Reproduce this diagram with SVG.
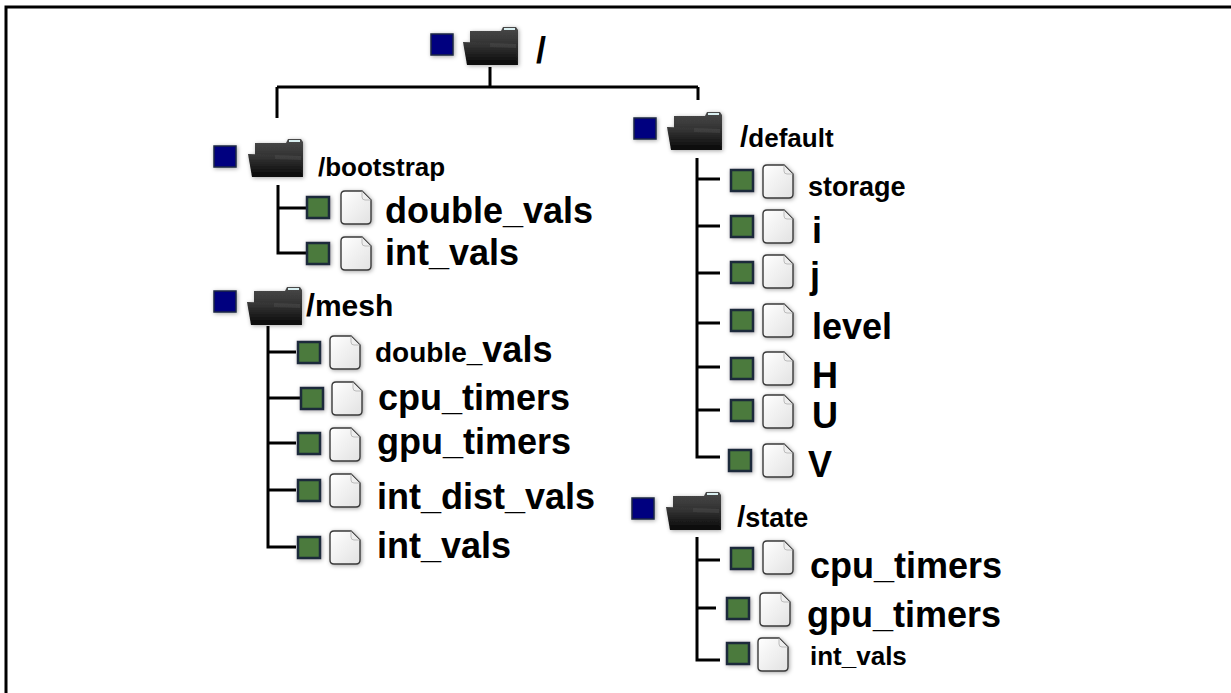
<svg xmlns="http://www.w3.org/2000/svg" xmlns:xlink="http://www.w3.org/1999/xlink" width="1231" height="693" viewBox="0 0 1231 693">
<style>
.lbl{font-family:"Liberation Sans",Arial,sans-serif;font-weight:bold;fill:#000}
.ln{fill:none;stroke:#000;stroke-width:3}
.frame{fill:none;stroke:#000;stroke-width:3}
.blue{fill:#00007f;stroke:#1e2a44;stroke-width:1.5}
.green{fill:#4b7a3c;stroke:#1b2a3a;stroke-width:2.5}
</style>
<defs>
<filter id="sh" x="-30%" y="-30%" width="160%" height="160%">
<feDropShadow dx="1" dy="1" stdDeviation="2" flood-color="#000" flood-opacity="0.35"/>
</filter>
<linearGradient id="fgBack" x1="0" y1="0" x2="0" y2="1">
<stop offset="0" stop-color="#4a4a4a"/><stop offset="1" stop-color="#151515"/>
</linearGradient>
<linearGradient id="fgFront" x1="0" y1="0" x2="0" y2="1">
<stop offset="0" stop-color="#3a3a3a"/><stop offset="1" stop-color="#070707"/>
</linearGradient>
<linearGradient id="fileG" x1="0" y1="0" x2="1" y2="1">
<stop offset="0" stop-color="#ffffff"/><stop offset="1" stop-color="#e2e2e2"/>
</linearGradient>
<g id="folder">
<path d="M6,4 H37 L39,0 H52 L54,3 V38 H6 Z" fill="url(#fgBack)"/>
<rect x="40" y="1" width="11" height="2" fill="#d8eef0"/>
<path d="M-1,15 L52,17 L53,38 L3,38 Z" fill="url(#fgFront)"/>
<path d="M26,16 L52,17 L52,21 L26,20 Z" fill="#555" opacity="0.35"/>
</g>
<g id="file">
<path d="M4,0 H21 L30,9 V29 Q30,33 26,33 H4 Q0,33 0,29 V4 Q0,0 4,0 Z" fill="url(#fileG)" stroke="#3a3a3a" stroke-width="1.4"/>
<path d="M21,0.5 V6 Q21,9 24,9 H29.5" fill="#eee" stroke="#bbb" stroke-width="1"/>
</g>
<rect id="bsq" class="blue" width="22" height="21"/>
<rect id="gsq" class="green" width="22" height="21"/>
</defs>
<rect width="1231" height="693" fill="#fff"/>
<path class="frame" d="M6,693 V7 H1231"/>

<g id="connectors">
<path class="ln" d="M490,67 V87 M277,87 H698 M277,87 V118 M698,87 V100"/>
<path class="ln" d="M278,185 V253 H306 M278,208 H306"/>
<path class="ln" d="M268,326 V547 H296 M268,352 H296 M268,398 H300 M268,443 H296 M268,490 H296"/>
<path class="ln" d="M697,158 V457 H720 M697,179 H720 M697,226 H720 M697,273 H720 M697,323 H720 M697,367 H720 M697,410 H720"/>
<path class="ln" d="M697,537 V660 H720 M697,560 H720 M697,608 H716"/>
</g>

<g id="n-root">
<use href="#bsq" x="431" y="34" filter="url(#sh)"/>
<use href="#folder" x="464" y="27" filter="url(#sh)"/>
<text class="lbl" x="536" y="63" font-size="36">/</text>
</g>

<g id="n-bootstrap">
<use href="#bsq" x="214" y="146" filter="url(#sh)"/>
<use href="#folder" x="249" y="139" filter="url(#sh)"/>
<text class="lbl" x="318" y="176" font-size="26">/bootstrap</text>
</g>
<g id="n-bootstrap-double_vals">
<use href="#gsq" x="307" y="197" filter="url(#sh)"/>
<use href="#file" x="341" y="191" filter="url(#sh)"/>
<text class="lbl" x="385" y="223" font-size="36">double_vals</text>
</g>
<g id="n-bootstrap-int_vals">
<use href="#gsq" x="307" y="243" filter="url(#sh)"/>
<use href="#file" x="341" y="237" filter="url(#sh)"/>
<text class="lbl" x="385" y="265" font-size="36">int_vals</text>
</g>

<g id="n-mesh">
<use href="#bsq" x="214" y="291" filter="url(#sh)"/>
<use href="#folder" x="248" y="287" filter="url(#sh)"/>
<text class="lbl" x="306" y="316"><tspan font-size="32">/</tspan><tspan font-size="30">mesh</tspan></text>
</g>
<g id="n-mesh-double_vals">
<use href="#gsq" x="298" y="342" filter="url(#sh)"/>
<use href="#file" x="330" y="336" filter="url(#sh)"/>
<text class="lbl" x="375" y="362"><tspan font-size="28">double_</tspan><tspan font-size="36">vals</tspan></text>
</g>
<g id="n-mesh-cpu_timers">
<use href="#gsq" x="301" y="388" filter="url(#sh)"/>
<use href="#file" x="332" y="382" filter="url(#sh)"/>
<text class="lbl" x="378" y="410" font-size="36">cpu_timers</text>
</g>
<g id="n-mesh-gpu_timers">
<use href="#gsq" x="298" y="433" filter="url(#sh)"/>
<use href="#file" x="330" y="428" filter="url(#sh)"/>
<text class="lbl" x="377" y="454" font-size="36">gpu_timers</text>
</g>
<g id="n-mesh-int_dist_vals">
<use href="#gsq" x="298" y="480" filter="url(#sh)"/>
<use href="#file" x="330" y="474" filter="url(#sh)"/>
<text class="lbl" x="377" y="509" font-size="36">int_dist_vals</text>
</g>
<g id="n-mesh-int_vals">
<use href="#gsq" x="298" y="537" filter="url(#sh)"/>
<use href="#file" x="330" y="531" filter="url(#sh)"/>
<text class="lbl" x="377" y="558" font-size="36">int_vals</text>
</g>

<g id="n-default">
<use href="#bsq" x="634" y="118" filter="url(#sh)"/>
<use href="#folder" x="668" y="112" filter="url(#sh)"/>
<text class="lbl" x="740" y="147"><tspan font-size="30">/</tspan><tspan font-size="26">default</tspan></text>
</g>
<g id="n-default-storage">
<use href="#gsq" x="731" y="170" filter="url(#sh)"/>
<use href="#file" x="763" y="165" filter="url(#sh)"/>
<text class="lbl" x="808" y="196" font-size="27">storage</text>
</g>
<g id="n-default-i">
<use href="#gsq" x="731" y="216" filter="url(#sh)"/>
<use href="#file" x="763" y="210" filter="url(#sh)"/>
<text class="lbl" x="812" y="243" font-size="36">i</text>
</g>
<g id="n-default-j">
<use href="#gsq" x="731" y="262" filter="url(#sh)"/>
<use href="#file" x="763" y="255" filter="url(#sh)"/>
<text class="lbl" x="810" y="288" font-size="36">j</text>
</g>
<g id="n-default-level">
<use href="#gsq" x="731" y="310" filter="url(#sh)"/>
<use href="#file" x="763" y="304" filter="url(#sh)"/>
<text class="lbl" x="812" y="339" font-size="36">level</text>
</g>
<g id="n-default-H">
<use href="#gsq" x="731" y="358" filter="url(#sh)"/>
<use href="#file" x="763" y="352" filter="url(#sh)"/>
<text class="lbl" x="812" y="388" font-size="36">H</text>
</g>
<g id="n-default-U">
<use href="#gsq" x="731" y="400" filter="url(#sh)"/>
<use href="#file" x="763" y="395" filter="url(#sh)"/>
<text class="lbl" x="812" y="428" font-size="36">U</text>
</g>
<g id="n-default-V">
<use href="#gsq" x="729" y="450" filter="url(#sh)"/>
<use href="#file" x="763" y="444" filter="url(#sh)"/>
<text class="lbl" x="808" y="477" font-size="36">V</text>
</g>

<g id="n-state">
<use href="#bsq" x="632" y="498" filter="url(#sh)"/>
<use href="#folder" x="667" y="492" filter="url(#sh)"/>
<text class="lbl" x="737" y="527"><tspan font-size="30">/</tspan><tspan font-size="27">state</tspan></text>
</g>
<g id="n-state-cpu_timers">
<use href="#gsq" x="731" y="548" filter="url(#sh)"/>
<use href="#file" x="763" y="541" filter="url(#sh)"/>
<text class="lbl" x="810" y="578" font-size="36">cpu_timers</text>
</g>
<g id="n-state-gpu_timers">
<use href="#gsq" x="727" y="598" filter="url(#sh)"/>
<use href="#file" x="760" y="593" filter="url(#sh)"/>
<text class="lbl" x="807" y="627" font-size="36">gpu_timers</text>
</g>
<g id="n-state-int_vals">
<use href="#gsq" x="727" y="643" filter="url(#sh)"/>
<use href="#file" x="758" y="638" filter="url(#sh)"/>
<text class="lbl" x="810" y="665" font-size="26">int_vals</text>
</g>
</svg>
